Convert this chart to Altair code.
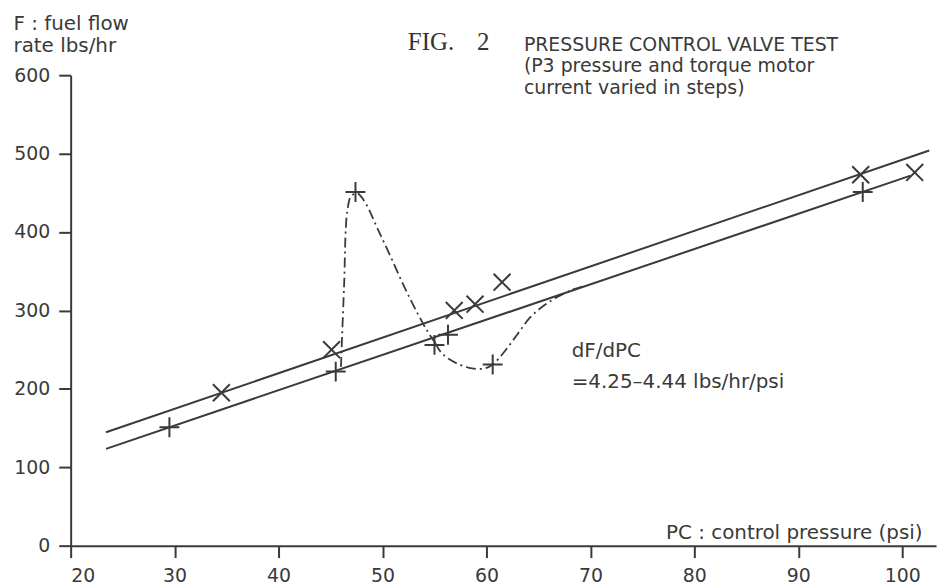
import altair as alt
import pandas as pd

# ---- data ----
plus_x = [29.5, 45.5, 47.4, 55.0, 56.3, 60.6, 96.2]
plus_y = [151, 222, 451, 256, 269, 231, 451]

cross_x = [34.5, 45.1, 56.9, 58.9, 61.5, 96.0, 101.2]
cross_y = [195, 250, 300, 308, 336, 473, 476]

fit_id = ["upper", "upper", "lower", "lower"]
fit_x = [23.4, 102.6, 23.4, 100.8]
fit_y = [144.6, 504.0, 123.5, 471.9]

curve_a_x = [46.0, 46.3, 46.6, 47.0, 47.6, 48.4, 49.5, 50.8, 52.1, 53.3, 54.3, 55.1]
curve_a_y = [228, 330, 425, 446, 449, 436, 405, 368, 330, 298, 274, 258]
curve_b_x = [55.1, 55.6, 56.4, 57.4, 58.6, 59.8, 60.6, 61.7, 63.0, 64.2, 65.5, 66.8, 68.2, 69.6]
curve_b_y = [258, 247, 238, 231, 226, 226, 231, 247, 270, 291, 306, 317, 326, 332]

x_ticks = [20, 30, 40, 50, 60, 70, 80, 90, 100]
y_ticks = [0, 100, 200, 300, 400, 500, 600]

fig_text = ["FIG.", "2"]
fig_x = [52.44, 59.1]
fig_y = [632, 632]

head_text = ["PRESSURE CONTROL VALVE TEST", "(P3 pressure and torque motor", "current varied in steps)"]
head_x = [63.6, 63.6, 63.6]
head_y = [631.2, 603.9, 576.6]

note_text = ["dF/dPC", "=4.25\u20134.44 lbs/hr/psi"]
note_x = [68.2, 68.2]
note_y = [240.8, 201.5]

INK = "#3a3a3a"
SANS = "DejaVu Sans"

# ---- tables ----
plus_df = pd.DataFrame({"x": plus_x, "y": plus_y})
cross_df = pd.DataFrame({"x": cross_x, "y": cross_y})
fit_df = pd.DataFrame({"id": fit_id, "x": fit_x, "y": fit_y})
curve_df = pd.DataFrame({
    "seg": ["a"] * len(curve_a_x) + ["b"] * len(curve_b_x),
    "x": curve_a_x + curve_b_x,
    "y": curve_a_y + curve_b_y,
    "ord": list(range(len(curve_a_x))) + list(range(len(curve_b_x))),
})
fig_df = pd.DataFrame({"t": fig_text, "x": fig_x, "y": fig_y})
head_df = pd.DataFrame({"t": head_text, "x": head_x, "y": head_y})
note_df = pd.DataFrame({"t": note_text, "x": note_x, "y": note_y})

xscale = alt.Scale(domain=[20, 103.25], nice=False, zero=False)
yscale = alt.Scale(domain=[0, 600], nice=False, zero=False)

xaxis = alt.Axis(
    values=x_ticks, grid=False, domainColor=INK, domainWidth=2,
    tickColor=INK, tickWidth=2, tickSize=12,
    labelFont=SANS, labelFontSize=19, labelColor=INK, labelPadding=9,
    title="PC : control pressure (psi)", titleFont=SANS, titleFontSize=20,
    titleFontWeight="normal", titleColor=INK, titleX=856, titleY=-7,
    titleAlign="right", titleBaseline="alphabetic",
)
yaxis = alt.Axis(
    values=y_ticks, grid=False, domainColor=INK, domainWidth=2,
    tickColor=INK, tickWidth=2, tickSize=12,
    labelFont=SANS, labelFontSize=19, labelColor=INK, labelPadding=9,
    title=["F : fuel flow", "rate lbs/hr"], titleFont=SANS, titleFontSize=20,
    titleFontWeight="normal", titleColor=INK, titleAngle=0,
    titleX=-58, titleY=-46, titleAlign="left", titleBaseline="alphabetic",
    titleLineHeight=22,
)

X = alt.X("x:Q", scale=xscale, axis=xaxis)
Y = alt.Y("y:Q", scale=yscale, axis=yaxis)

fits = alt.Chart(fit_df).mark_line(color=INK, strokeWidth=2).encode(
    x=X, y=Y, detail="id:N"
)

curves = alt.Chart(curve_df).mark_line(
    color=INK, strokeWidth=1.8, strokeDash=[10, 4, 2, 4], interpolate="catmull-rom"
).encode(
    x="x:Q", y="y:Q", detail="seg:N", order="ord:Q"
)

pluses = alt.Chart(plus_df).mark_point(
    shape="M-1,0L1,0M0,-1L0,1", size=400, filled=False, stroke=INK, strokeWidth=2, opacity=1
).encode(x="x:Q", y="y:Q")

crosses = alt.Chart(cross_df).mark_point(
    shape="M-1,-1L1,1M-1,1L1,-1", size=289, filled=False, stroke=INK, strokeWidth=2, opacity=1
).encode(x="x:Q", y="y:Q")

fig_lbl = alt.Chart(fig_df).mark_text(
    font="Liberation Serif", fontSize=25, color="#333333", align="left", baseline="alphabetic"
).encode(x="x:Q", y="y:Q", text="t:N")

head_lbl = alt.Chart(head_df).mark_text(
    font=SANS, fontSize=19, color=INK, align="left", baseline="alphabetic"
).encode(x="x:Q", y="y:Q", text="t:N")

note_lbl = alt.Chart(note_df).mark_text(
    font=SANS, fontSize=20, color=INK, align="left", baseline="alphabetic"
).encode(x="x:Q", y="y:Q", text="t:N")

chart = alt.layer(fits, curves, pluses, crosses, fig_lbl, head_lbl, note_lbl).properties(
    width=870, height=473,
    autosize=alt.AutoSizeParams(type="none"),
    padding={"left": 63, "top": 66, "right": 5, "bottom": 38},
    background="white",
).configure_view(stroke=None)

chart.save("out.html", embed_options={"renderer": "svg", "actions": False})
